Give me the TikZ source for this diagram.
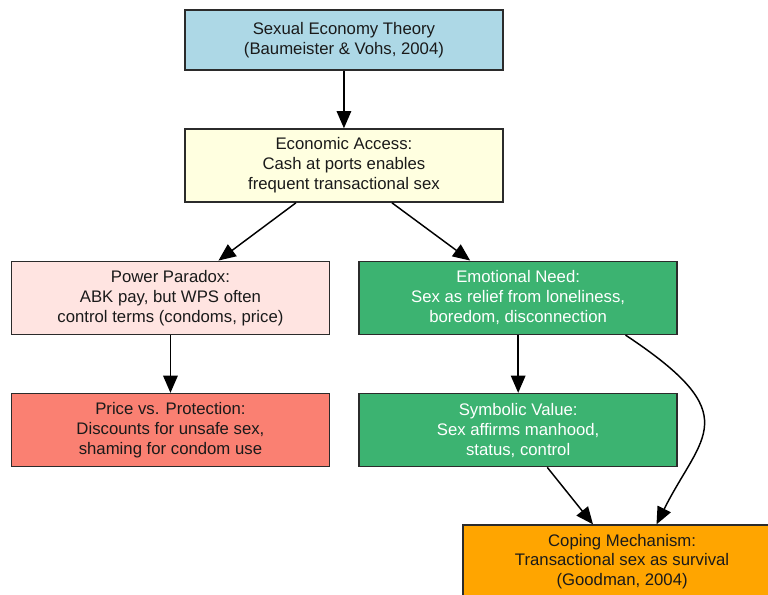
\documentclass[tikz,border=0pt]{standalone}
\usepackage{fontspec}
\setmainfont{Liberation Sans}
\usetikzlibrary{arrows.meta}

\definecolor{boxline}{HTML}{2B2B2B}
\definecolor{boxtext}{HTML}{1A1A1A}
\definecolor{theoryblue}{HTML}{ADD8E6}
\definecolor{accessyellow}{HTML}{FFFFE0}
\definecolor{powerrose}{HTML}{FFE4E1}
\definecolor{needgreen}{HTML}{3CB371}
\definecolor{pricesalmon}{HTML}{FA8072}
\definecolor{copingorange}{HTML}{FFA500}

\tikzset{
    box/.style={draw=boxline, line width=1.2pt, text=boxtext, align=center,
        minimum width=8.41cm, minimum height=1.93cm, inner sep=0pt,
        font=\fontsize{12.6}{15}\selectfont},
    arr/.style={line width=1.1pt, -{Triangle[length=13pt, width=11pt]}}
}

\begin{document}
\begin{tikzpicture}
\useasboundingbox (0.0, 0.0) rectangle (20.32, 15.72);

\node[box, fill=theoryblue, minimum height=1.59cm] (theory) at (9.10, 14.66)
    {Sexual Economy Theory\\(Baumeister \& Vohs, 2004)};
\node[box, fill=accessyellow] (access) at (9.10, 11.34)
    {Economic Access:\\Cash at ports enables\\frequent transactional sex};
\node[box, fill=powerrose] (power) at (4.51, 7.84)
    {Power Paradox:\\ABK pay, but WPS often\\control terms (condoms, price)};
\node[box, fill=needgreen, text=white] (need) at (13.71, 7.84)
    {Emotional Need:\\Sex as relief from loneliness,\\boredom, disconnection};
\node[box, fill=pricesalmon] (price) at (4.51, 4.34)
    {Price vs. Protection:\\Discounts for unsafe sex,\\shaming for condom use};
\node[box, fill=needgreen, text=white] (symbolic) at (13.71, 4.34)
    {Symbolic Value:\\Sex affirms manhood,\\status, control};
\node[box, fill=copingorange] (coping) at (16.46, 0.86)
    {Coping Mechanism:\\Transactional sex as survival\\(Goodman, 2004)};

\draw[arr] (theory) -- (access);
\draw[arr] ([xshift=-1.27cm]access.south) -- ([xshift=1.27cm]power.north);
\draw[arr] ([xshift=1.27cm]access.south) -- ([xshift=-1.27cm]need.north);
\draw[arr] (power) -- (price);
\draw[arr] (need) -- (symbolic);
\draw[arr] ([xshift=0.77cm]symbolic.south) -- ([xshift=-0.77cm]coping.north);
\draw[arr] ([xshift=2.84cm]need.south)
    .. controls +(3.23, -2.14) and +(1.19, 2.38) .. ([xshift=0.91cm]coping.north);
\end{tikzpicture}
\end{document}
